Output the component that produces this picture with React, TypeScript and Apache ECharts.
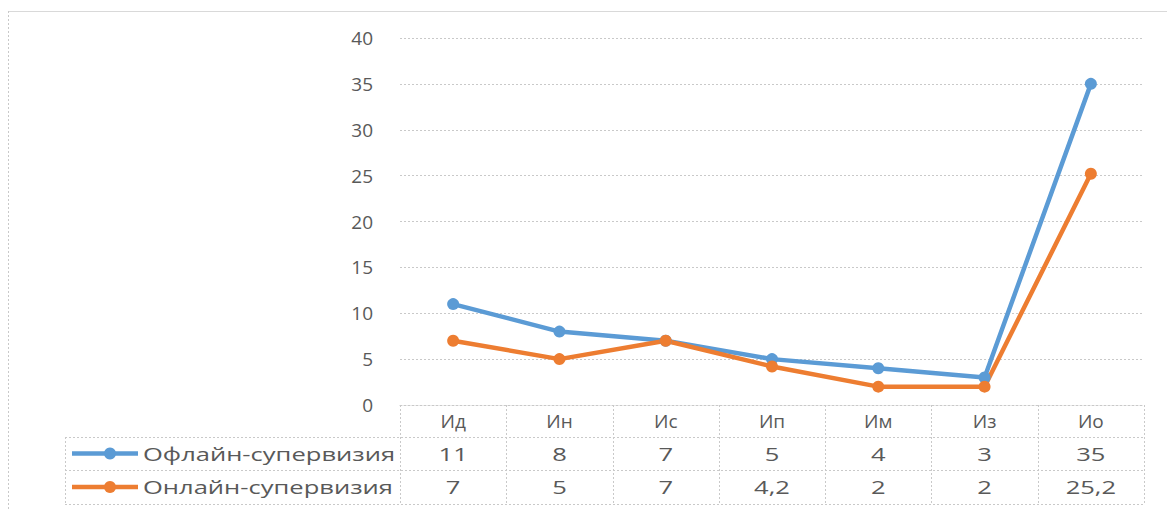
import React, { useEffect, useRef } from "react";
import * as echarts from "echarts";

const categories = ["Ид", "Ин", "Ис", "Ип", "Им", "Из", "Ио"];
const seriesNames = ["Офлайн-супервизия", "Онлайн-супервизия"];
const offlineValues = [11, 8, 7, 5, 4, 3, 35];
const onlineValues = [7, 5, 7, 4.2, 2, 2, 25.2];
const yTicks = { min: 0, max: 40, interval: 5 };

const COLORS = ["#5B9BD5", "#ED7D31"];
const TEXT = "#595959";
const GRID_LINE = "#C9C9C9";
const FONT = "'Open Sans', 'Noto Sans', sans-serif";

const W = 1167;
const H = 509;
const PLOT_L = 400;
const PLOT_R = 1144;
const PLOT_T = 38;
const PLOT_B = 405;
const ROW_Y = [405, 437, 470, 504];
const TABLE_L = 65;
const SX = 1.42;

const fmt = (v: number) => String(v).replace(".", ",");

export default function App() {
  const ref = useRef<HTMLDivElement>(null);
  useEffect(() => {
    if (!ref.current) return;
    const chart = echarts.init(ref.current, undefined, { renderer: "svg" });
    const colW = (PLOT_R - PLOT_L) / categories.length;
    const dotted = { stroke: GRID_LINE, lineWidth: 1, lineDash: [2, 2] };
    const graphics: any[] = [];
    // outer chart border
    graphics.push({ type: "line", shape: { x1: 8, y1: 11.5, x2: W, y2: 11.5 }, style: { stroke: "#D9D9D9", lineWidth: 1 }, silent: true });
    graphics.push({ type: "line", shape: { x1: 8.5, y1: 11, x2: 8.5, y2: H }, style: dotted, silent: true });
    // table vertical lines
    for (let i = 0; i <= categories.length; i++) {
      const x = Math.round(PLOT_L + i * colW) + 0.5;
      graphics.push({ type: "line", shape: { x1: x, y1: ROW_Y[0], x2: x, y2: ROW_Y[3] }, style: dotted, silent: true });
    }
    graphics.push({ type: "line", shape: { x1: TABLE_L + 0.5, y1: ROW_Y[1], x2: TABLE_L + 0.5, y2: ROW_Y[3] }, style: dotted, silent: true });
    for (let r = 1; r <= 3; r++) {
      graphics.push({ type: "line", shape: { x1: TABLE_L, y1: ROW_Y[r] + 0.5, x2: PLOT_R, y2: ROW_Y[r] + 0.5 }, style: dotted, silent: true });
    }
    const rows = [offlineValues, onlineValues];
    rows.forEach((vals, r) => {
      const yc = (ROW_Y[r + 1] + ROW_Y[r + 2]) / 2;
      // legend key
      graphics.push({ type: "line", shape: { x1: 72, y1: yc, x2: 138, y2: yc }, style: { stroke: COLORS[r], lineWidth: 4.5 }, silent: true });
      graphics.push({ type: "circle", shape: { cx: 110, cy: yc, r: 6 }, style: { fill: COLORS[r] }, silent: true });
      graphics.push({
        type: "text", x: 143, y: yc, scaleX: SX,
        style: { text: seriesNames[r], fontSize: 18, fontFamily: FONT, fill: TEXT, align: "left", verticalAlign: "middle", textAlign: "left", textVerticalAlign: "middle" },
        silent: true,
      });
      vals.forEach((v, i) => {
        graphics.push({
          type: "text", x: PLOT_L + (i + 0.5) * colW, y: yc, scaleX: SX,
          style: { text: fmt(v), fontSize: 18, fontFamily: FONT, fill: TEXT, align: "center", verticalAlign: "middle", textAlign: "center", textVerticalAlign: "middle" },
          silent: true,
        });
      });
    });

    chart.setOption({
      animation: false,
      backgroundColor: "#ffffff",
      grid: { left: PLOT_L, right: W - PLOT_R, top: PLOT_T, bottom: H - PLOT_B, containLabel: false },
      xAxis: {
        type: "category",
        data: categories,
        boundaryGap: true,
        axisLine: { show: true, lineStyle: { color: GRID_LINE, type: [2, 2], width: 1 } },
        axisTick: { show: false },
        axisLabel: { color: TEXT, fontSize: 19, fontFamily: FONT, margin: 6 },
      },
      yAxis: {
        type: "value",
        min: yTicks.min,
        max: yTicks.max,
        interval: yTicks.interval,
        axisLine: { show: false },
        axisTick: { show: false },
        axisLabel: { color: TEXT, fontSize: 19, fontFamily: FONT, margin: 27 },
        splitLine: { show: true, lineStyle: { color: GRID_LINE, type: [2, 2], width: 1 } },
      },
      series: [
        {
          name: seriesNames[0], type: "line", data: offlineValues,
          symbol: "circle", symbolSize: 12,
          lineStyle: { color: COLORS[0], width: 4.5 },
          itemStyle: { color: COLORS[0] },
        },
        {
          name: seriesNames[1], type: "line", data: onlineValues,
          symbol: "circle", symbolSize: 12,
          lineStyle: { color: COLORS[1], width: 4.5 },
          itemStyle: { color: COLORS[1] },
        },
      ],
      graphic: graphics,
    });
    return () => chart.dispose();
  }, []);
  return <div ref={ref} style={{ position: "absolute", left: 0, top: 0, width: W, height: H }} />;
}
